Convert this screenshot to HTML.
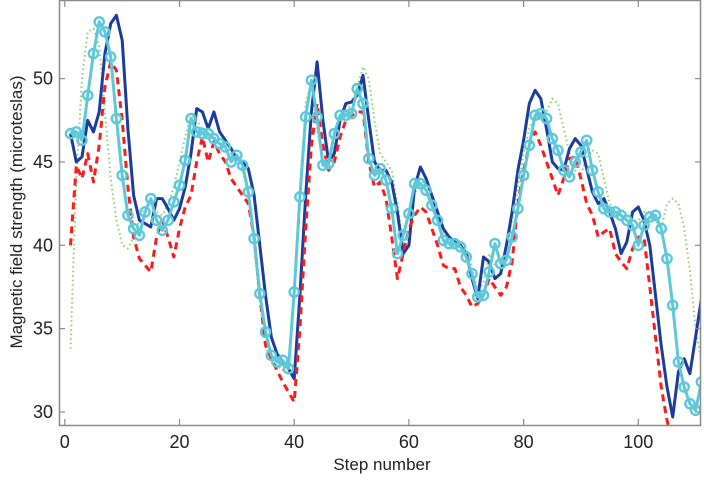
<!DOCTYPE html>
<html><head><meta charset="utf-8"><style>
html,body{margin:0;padding:0;background:#fff;}
svg{display:block;font-family:"Liberation Sans",Arial,sans-serif;}
</style></head><body>
<svg id="s" width="704" height="480" viewBox="0 0 704 480" xmlns="http://www.w3.org/2000/svg">
<defs><clipPath id="c"><rect x="59" y="1" width="642" height="424"/></clipPath></defs>
<rect x="59" y="1" width="642" height="424" fill="#fff"/>
<g id="plot" clip-path="url(#c)"></g>
<rect x="59.5" y="0.5" width="641" height="425" fill="none" stroke="#8a8a8a" stroke-width="1.5"/>
<g id="ticks" stroke="#8a8a8a" stroke-width="1.2"></g>
<g id="lab" font-size="18" fill="#222"></g>
<text x="382" y="470" font-size="17" fill="#222" text-anchor="middle">Step number</text>
<text transform="translate(22,212) rotate(-90)" font-size="17" fill="#222" text-anchor="middle">Magnetic field strength (microteslas)</text>
</svg>
<script>
var X=function(s){return 64.8+s*5.735;},Y=function(v){return 412-(v-30)*16.67;};
var blue=[46.7,45,45.3,47.5,46.8,48,51.5,53.3,53.8,52.3,47,43,41.5,41.3,41.1,42.8,42.8,42.2,41.5,42.2,43.5,45.5,48.2,48,47,48,46.8,46.3,45.8,45.2,45,44.6,43,40,37,34.5,33.5,33,32.6,32,37,43,48,51,47.5,45,45.5,47.5,48.5,48.6,49,50.2,47.5,45,44.5,44.5,43.8,42,39.5,40,43.5,44.7,44,43,42,41,40.5,40.2,40,39.5,38,36.8,39.3,39,38,38.3,40,42,44.5,46.3,48.5,49.3,48.8,47,45,44.6,44.5,45.8,46.4,46,44.6,43.2,42.5,42.8,42,41,39.5,40.2,42,42.3,41.5,40,37,34,31.5,29.7,32.4,33.2,32.3,34.5,36.8];
var cyan=[46.7,46.8,46.3,49,51.5,53.4,52.8,51.3,47.6,44.2,41.8,41,40.6,42,42.8,41.5,40.9,41.5,42.6,43.6,45.1,47.6,46.8,46.7,46.7,46.4,46.1,45.9,45,45.4,44.8,43.2,40.4,37.1,34.8,33.4,33,33.1,32.6,37.2,42.9,47.7,49.9,47.7,44.8,44.9,46.7,47.8,47.8,47.9,49.4,48.5,45.2,44.2,44.6,43.9,42.2,39.5,40.6,41.9,43.7,43.7,43.3,42.4,41.5,40.3,40.1,40.1,39.9,39.3,38.3,36.9,37,38.4,40.1,38.9,39.1,40.5,42.2,44.2,46,47.8,47.9,47.6,46.4,45.7,44.5,44.1,45,45.6,46.3,44.5,43.2,42.2,42,42,41.8,41.5,41.2,40,41.2,41.7,41.8,41,39.2,36.4,33,31.5,30.5,30.1,31.8];
var red=[40,44.8,44,45.5,43.8,46,49.5,51,50.5,47.5,43.5,40.5,39.2,38.8,38.4,40.5,41.5,40.5,39.3,41,42.3,43,45,46.5,45,46.2,45.5,45,44,43.5,43,42.5,40.5,37,34,33.2,32.5,31.8,31.2,30.6,35,41,46,48.5,46,44.5,45,46.5,47.5,47.8,48,48,45,43.5,43.8,42.8,40.5,38,39.5,41,41.8,42.3,42,41,40,38.8,38.6,38.6,37.5,37,36.3,36.5,37,38,37.5,37,37.5,39,42.5,44.5,46,46.8,46,45,44,43,44,45.2,45.3,44,42.5,41.8,40.5,40.8,41,39.5,39,38.6,39.8,40.5,40.5,37.5,34.5,31.5,29.5,28,27];
var green=[33.8,44,50,52.8,53,52,48,44,41.5,40,39.8,40.5,41.5,42.3,42.5,42,41.8,42.5,43.5,45,46.5,47.8,47.5,47,46.6,46.5,46.3,46,45.5,45.1,44.5,43,40,36.5,34,33,32.8,32.5,33,37.5,43.5,48.5,49.8,47,45,44.5,46,47.5,48,48.5,49.5,50.7,50,47.5,45.5,45,44.5,42.5,40,40.5,43,44,43.5,42.5,41.5,40.8,40.5,40.3,40,39.8,38.7,37.2,37.8,39.5,38.8,38.5,39.8,41.5,43.5,45.5,47,47.7,47.5,48,48.8,48.5,47,45.5,44.5,44.2,45.3,45.7,45.5,44,42.5,42,41.8,41.5,41.5,41.5,42,42,41.5,41,42.5,42.8,42.5,41,38.5,35,33];
var NS="http://www.w3.org/2000/svg",g=document.getElementById('plot');
function pts(a){return a.map(function(v,i){return X(i+1).toFixed(1)+','+Y(v).toFixed(1)}).join(' ');}
function pl(a,st,w,d){var p=document.createElementNS(NS,'polyline');p.setAttribute('points',pts(a));p.setAttribute('fill','none');p.setAttribute('stroke',st);p.setAttribute('stroke-width',w);p.setAttribute('stroke-linejoin','round');if(d)p.setAttribute('stroke-dasharray',d);g.appendChild(p);}
pl(green,'#8fd16a',2,'1.5,3');
pl(blue,'#1c3c9c',3);
pl(red,'#ff1a1a',3,'7,5');
pl(cyan,'#5cc8da',3);
cyan.forEach(function(v,i){var c=document.createElementNS(NS,'circle');c.setAttribute('cx',X(i+1));c.setAttribute('cy',Y(v));c.setAttribute('r',4.6);c.setAttribute('fill','none');c.setAttribute('stroke','#5cc8da');c.setAttribute('stroke-width',2.4);g.appendChild(c);});
var t=document.getElementById('ticks'),L=document.getElementById('lab');
function ln(x1,y1,x2,y2){var l=document.createElementNS(NS,'line');l.setAttribute('x1',x1);l.setAttribute('y1',y1);l.setAttribute('x2',x2);l.setAttribute('y2',y2);t.appendChild(l);}
function tx(x,y,s,a){var e=document.createElementNS(NS,'text');e.setAttribute('x',x);e.setAttribute('y',y);e.setAttribute('text-anchor',a);e.textContent=s;L.appendChild(e);}
[0,20,40,60,80,100].forEach(function(s){var x=X(s);ln(x,425,x,419);ln(x,1,x,7);tx(x,448,s,'middle');});
[30,35,40,45,50].forEach(function(v){var y=Y(v);ln(59,y,65,y);ln(701,y,695,y);tx(53,y+6,v,'end');});
</script>
</body></html>
